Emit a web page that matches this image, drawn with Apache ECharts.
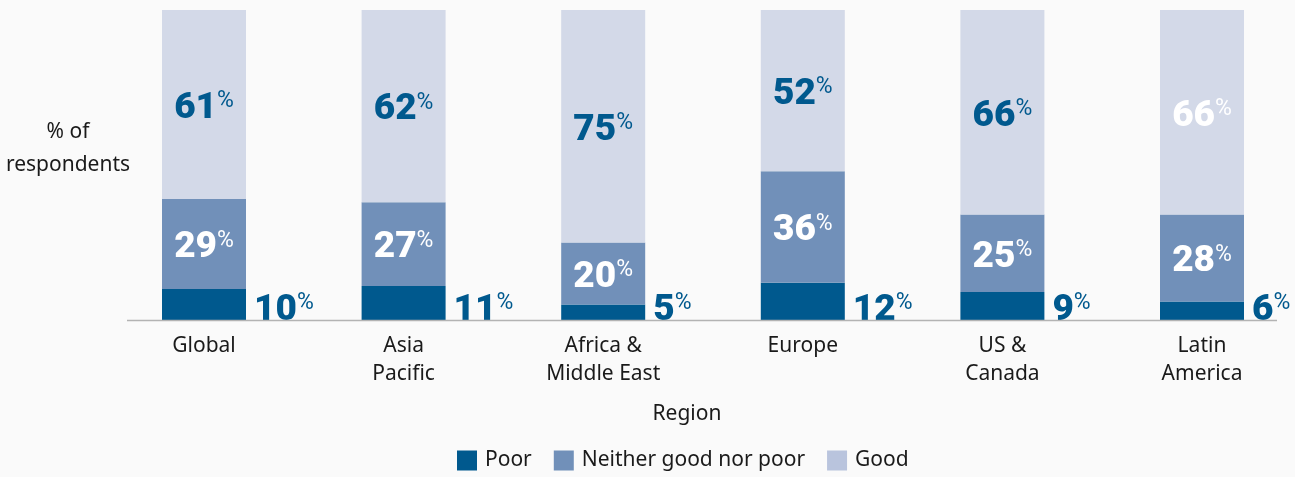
<!DOCTYPE html>
<html>
<head>
<meta charset="utf-8">
<script src="https://cdn.jsdelivr.net/npm/echarts@6/dist/echarts.min.js"></script>
<style>
  html, body { margin: 0; padding: 0; background: #fafafa; }
  #chart { width: 1295px; height: 477px; }
</style>
</head>
<body>
<div id="chart"></div>
<script>
// Rating of conditions by region, share of respondents (%)
const regions = ['Global', 'Asia\nPacific', 'Africa &\nMiddle East', 'Europe', 'US &\nCanada', 'Latin\nAmerica'];
const poor = [10, 11, 5, 12, 9, 6];
const neither = [29, 27, 20, 36, 25, 28];
const good = [61, 62, 75, 52, 66, 66];

const C_POOR = '#00598e';
const C_NEITHER = '#7190b9';
const C_GOOD = '#d3d9e8';
const C_GOOD_KEY = '#b9c4dd';
const NUM_FONT = 'Roboto, "Noto Sans", sans-serif';
const TEXT_FONT = '"Noto Sans", sans-serif';
const INK = '#1a1a1a';

const rich = {
  n: { fontFamily: NUM_FONT, fontWeight: 900, fontSize: 37, lineHeight: 37 },
  p: { fontFamily: NUM_FONT, fontWeight: 'normal', fontSize: 23, lineHeight: 21, verticalAlign: 'top' }
};
const fmt = p => '{n|' + p.value + '}{p|%}';

const chart = echarts.init(document.getElementById('chart'));
chart.setOption({
  backgroundColor: '#fafafa',
  animation: false,
  // category points sit on the grid edges; bars overhang them
  grid: { left: 204, width: 998, top: 10, height: 310 },
  xAxis: {
    type: 'category',
    data: regions,
    boundaryGap: false,
    axisLine: { show: false },
    axisTick: { show: false },
    axisLabel: { margin: 12, fontFamily: TEXT_FONT, fontSize: 21, lineHeight: 28, color: INK },
    name: 'Region',
    nameLocation: 'middle',
    nameGap: 84,
    nameTextStyle: { fontFamily: TEXT_FONT, fontSize: 21, color: INK, padding: [0, 32, 0, 0] }
  },
  yAxis: { type: 'value', min: 0, max: 100, show: false },
  legend: {
    left: 457,
    top: 450,
    padding: 0,
    itemWidth: 20,
    itemHeight: 20,
    itemGap: 22,
    icon: 'rect',
    textStyle: { fontFamily: TEXT_FONT, fontSize: 21, color: INK, padding: [0, 0, 0, 3] },
    data: [
      { name: 'Poor' },
      { name: 'Neither good nor poor' },
      { name: 'Good', itemStyle: { color: C_GOOD_KEY } }
    ]
  },
  graphic: [
    { type: 'line', shape: { x1: 127, y1: 320.5, x2: 1277, y2: 320.5 }, style: { stroke: '#b3b3b3', lineWidth: 1.5 }, z: 10 },
    { type: 'text', x: 68, y: 116, style: { text: '% of\nrespondents', font: '21px ' + TEXT_FONT, fill: INK, lineHeight: 33, align: 'center', verticalAlign: 'top' } }
  ],
  series: [
    {
      name: 'Poor', type: 'bar', stack: 'all', barWidth: 84, clip: false,
      itemStyle: { color: C_POOR },
      label: {
        show: true, position: ['100%', '100%'], align: 'left', verticalAlign: 'bottom',
        offset: [8, 9], color: C_POOR, formatter: fmt, rich: rich
      },
      data: poor
    },
    {
      name: 'Neither good nor poor', type: 'bar', stack: 'all', barWidth: 84, clip: false,
      itemStyle: { color: C_NEITHER },
      label: { show: true, position: 'inside', offset: [0, 4], color: '#ffffff', formatter: fmt, rich: rich },
      data: neither
    },
    {
      name: 'Good', type: 'bar', stack: 'all', barWidth: 84, clip: false,
      itemStyle: { color: C_GOOD },
      label: { show: true, position: 'inside', offset: [0, 4], color: C_POOR, formatter: fmt, rich: rich },
      data: good.map((v, i) => i === good.length - 1 ? { value: v, label: { color: '#ffffff' } } : v)
    }
  ]
});
</script>
</body>
</html>
